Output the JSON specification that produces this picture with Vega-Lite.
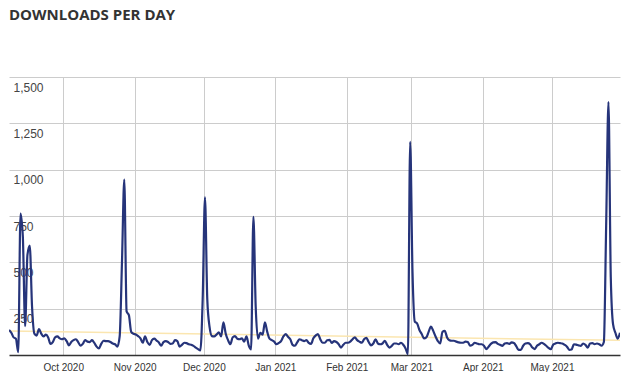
{
  "$schema": "https://vega.github.io/schema/vega-lite/v6.json",
  "width": 611,
  "height": 278,
  "padding": {"left": 9, "right": 9, "top": 8, "bottom": 0},
  "background": "white",
  "title": {"text": "DOWNLOADS PER DAY", "anchor": "start", "frame": "group", "font": "Open Sans", "fontSize": 15, "fontWeight": "bold", "color": "#333333", "baseline": "top", "offset": 54},
  "config": {"view": {"stroke": null}},
  "datasets": {
    "trend": [
      {"date": "2020-09-07T12:00", "value": 129},
      {"date": "2021-05-30T12:00", "value": 79}
    ],
    "daily": [
      {"date": "2020-09-07T12:00", "value": 135}, {"date": "2020-09-08T12:00", "value": 120}, {"date": "2020-09-09T12:00", "value": 95}, {"date": "2020-09-10T12:00", "value": 88}, {"date": "2020-09-11T12:00", "value": 15}, {"date": "2020-09-12T12:00", "value": 763}, {"date": "2020-09-13T12:00", "value": 640}, {"date": "2020-09-14T12:00", "value": 156}, {"date": "2020-09-15T12:00", "value": 540}, {"date": "2020-09-16T12:00", "value": 590}, {"date": "2020-09-17T12:00", "value": 260}, {"date": "2020-09-18T12:00", "value": 115}, {"date": "2020-09-19T12:00", "value": 105}, {"date": "2020-09-20T12:00", "value": 140}, {"date": "2020-09-21T12:00", "value": 115}, {"date": "2020-09-22T12:00", "value": 100}, {"date": "2020-09-23T12:00", "value": 110}, {"date": "2020-09-24T12:00", "value": 95}, {"date": "2020-09-25T12:00", "value": 60}, {"date": "2020-09-26T12:00", "value": 70}, {"date": "2020-09-27T12:00", "value": 95}, {"date": "2020-09-28T12:00", "value": 100}, {"date": "2020-09-29T12:00", "value": 90}, {"date": "2020-09-30T12:00", "value": 85},
      {"date": "2020-10-01T12:00", "value": 90}, {"date": "2020-10-02T12:00", "value": 75}, {"date": "2020-10-03T12:00", "value": 52}, {"date": "2020-10-04T12:00", "value": 70}, {"date": "2020-10-05T12:00", "value": 80}, {"date": "2020-10-06T12:00", "value": 85}, {"date": "2020-10-07T12:00", "value": 70}, {"date": "2020-10-08T12:00", "value": 50}, {"date": "2020-10-09T12:00", "value": 60}, {"date": "2020-10-10T12:00", "value": 80}, {"date": "2020-10-11T12:00", "value": 72}, {"date": "2020-10-12T12:00", "value": 70}, {"date": "2020-10-13T12:00", "value": 80}, {"date": "2020-10-14T12:00", "value": 65}, {"date": "2020-10-15T12:00", "value": 45}, {"date": "2020-10-16T12:00", "value": 35}, {"date": "2020-10-17T12:00", "value": 60}, {"date": "2020-10-18T12:00", "value": 77}, {"date": "2020-10-19T12:00", "value": 75}, {"date": "2020-10-20T12:00", "value": 75}, {"date": "2020-10-21T12:00", "value": 70}, {"date": "2020-10-22T12:00", "value": 62}, {"date": "2020-10-23T12:00", "value": 58}, {"date": "2020-10-24T12:00", "value": 45}, {"date": "2020-10-25T12:00", "value": 100}, {"date": "2020-10-26T12:00", "value": 500}, {"date": "2020-10-27T12:00", "value": 947}, {"date": "2020-10-28T12:00", "value": 235}, {"date": "2020-10-29T12:00", "value": 215}, {"date": "2020-10-30T12:00", "value": 125}, {"date": "2020-10-31T12:00", "value": 115},
      {"date": "2020-11-01T12:00", "value": 111}, {"date": "2020-11-02T12:00", "value": 102}, {"date": "2020-11-03T12:00", "value": 90}, {"date": "2020-11-04T12:00", "value": 66}, {"date": "2020-11-05T12:00", "value": 100}, {"date": "2020-11-06T12:00", "value": 70}, {"date": "2020-11-07T12:00", "value": 55}, {"date": "2020-11-08T12:00", "value": 80}, {"date": "2020-11-09T12:00", "value": 88}, {"date": "2020-11-10T12:00", "value": 78}, {"date": "2020-11-11T12:00", "value": 68}, {"date": "2020-11-12T12:00", "value": 50}, {"date": "2020-11-13T12:00", "value": 70}, {"date": "2020-11-14T12:00", "value": 75}, {"date": "2020-11-15T12:00", "value": 70}, {"date": "2020-11-16T12:00", "value": 60}, {"date": "2020-11-17T12:00", "value": 62}, {"date": "2020-11-18T12:00", "value": 80}, {"date": "2020-11-19T12:00", "value": 75}, {"date": "2020-11-20T12:00", "value": 45}, {"date": "2020-11-21T12:00", "value": 55}, {"date": "2020-11-22T12:00", "value": 66}, {"date": "2020-11-23T12:00", "value": 64}, {"date": "2020-11-24T12:00", "value": 58}, {"date": "2020-11-25T12:00", "value": 55}, {"date": "2020-11-26T12:00", "value": 49}, {"date": "2020-11-27T12:00", "value": 40}, {"date": "2020-11-28T12:00", "value": 32}, {"date": "2020-11-29T12:00", "value": 25}, {"date": "2020-11-30T12:00", "value": 300},
      {"date": "2020-12-01T12:00", "value": 850}, {"date": "2020-12-02T12:00", "value": 300}, {"date": "2020-12-03T12:00", "value": 150}, {"date": "2020-12-04T12:00", "value": 102}, {"date": "2020-12-05T12:00", "value": 100}, {"date": "2020-12-06T12:00", "value": 110}, {"date": "2020-12-07T12:00", "value": 122}, {"date": "2020-12-08T12:00", "value": 100}, {"date": "2020-12-09T12:00", "value": 176}, {"date": "2020-12-10T12:00", "value": 115}, {"date": "2020-12-11T12:00", "value": 80}, {"date": "2020-12-12T12:00", "value": 58}, {"date": "2020-12-13T12:00", "value": 95}, {"date": "2020-12-14T12:00", "value": 102}, {"date": "2020-12-15T12:00", "value": 88}, {"date": "2020-12-16T12:00", "value": 85}, {"date": "2020-12-17T12:00", "value": 90}, {"date": "2020-12-18T12:00", "value": 72}, {"date": "2020-12-19T12:00", "value": 100}, {"date": "2020-12-20T12:00", "value": 50}, {"date": "2020-12-21T12:00", "value": 30}, {"date": "2020-12-22T12:00", "value": 745}, {"date": "2020-12-23T12:00", "value": 260}, {"date": "2020-12-24T12:00", "value": 88}, {"date": "2020-12-25T12:00", "value": 120}, {"date": "2020-12-26T12:00", "value": 110}, {"date": "2020-12-27T12:00", "value": 176}, {"date": "2020-12-28T12:00", "value": 125}, {"date": "2020-12-29T12:00", "value": 88}, {"date": "2020-12-30T12:00", "value": 80}, {"date": "2020-12-31T12:00", "value": 72},
      {"date": "2021-01-01T12:00", "value": 58}, {"date": "2021-01-02T12:00", "value": 65}, {"date": "2021-01-03T12:00", "value": 75}, {"date": "2021-01-04T12:00", "value": 100}, {"date": "2021-01-05T12:00", "value": 113}, {"date": "2021-01-06T12:00", "value": 98}, {"date": "2021-01-07T12:00", "value": 85}, {"date": "2021-01-08T12:00", "value": 55}, {"date": "2021-01-09T12:00", "value": 50}, {"date": "2021-01-10T12:00", "value": 68}, {"date": "2021-01-11T12:00", "value": 85}, {"date": "2021-01-12T12:00", "value": 80}, {"date": "2021-01-13T12:00", "value": 75}, {"date": "2021-01-14T12:00", "value": 80}, {"date": "2021-01-15T12:00", "value": 65}, {"date": "2021-01-16T12:00", "value": 60}, {"date": "2021-01-17T12:00", "value": 90}, {"date": "2021-01-18T12:00", "value": 105}, {"date": "2021-01-19T12:00", "value": 113}, {"date": "2021-01-20T12:00", "value": 85}, {"date": "2021-01-21T12:00", "value": 66}, {"date": "2021-01-22T12:00", "value": 66}, {"date": "2021-01-23T12:00", "value": 80}, {"date": "2021-01-24T12:00", "value": 82}, {"date": "2021-01-25T12:00", "value": 65}, {"date": "2021-01-26T12:00", "value": 75}, {"date": "2021-01-27T12:00", "value": 70}, {"date": "2021-01-28T12:00", "value": 58}, {"date": "2021-01-29T12:00", "value": 40}, {"date": "2021-01-30T12:00", "value": 55}, {"date": "2021-01-31T12:00", "value": 66},
      {"date": "2021-02-01T12:00", "value": 66}, {"date": "2021-02-02T12:00", "value": 72}, {"date": "2021-02-03T12:00", "value": 85}, {"date": "2021-02-04T12:00", "value": 95}, {"date": "2021-02-05T12:00", "value": 80}, {"date": "2021-02-06T12:00", "value": 72}, {"date": "2021-02-07T12:00", "value": 66}, {"date": "2021-02-08T12:00", "value": 85}, {"date": "2021-02-09T12:00", "value": 92}, {"date": "2021-02-10T12:00", "value": 70}, {"date": "2021-02-11T12:00", "value": 52}, {"date": "2021-02-12T12:00", "value": 62}, {"date": "2021-02-13T12:00", "value": 85}, {"date": "2021-02-14T12:00", "value": 62}, {"date": "2021-02-15T12:00", "value": 58}, {"date": "2021-02-16T12:00", "value": 62}, {"date": "2021-02-17T12:00", "value": 77}, {"date": "2021-02-18T12:00", "value": 55}, {"date": "2021-02-19T12:00", "value": 40}, {"date": "2021-02-20T12:00", "value": 49}, {"date": "2021-02-21T12:00", "value": 62}, {"date": "2021-02-22T12:00", "value": 62}, {"date": "2021-02-23T12:00", "value": 58}, {"date": "2021-02-24T12:00", "value": 66}, {"date": "2021-02-25T12:00", "value": 55}, {"date": "2021-02-26T12:00", "value": 35}, {"date": "2021-02-27T12:00", "value": 5}, {"date": "2021-02-28T12:00", "value": 1150},
      {"date": "2021-03-01T12:00", "value": 450}, {"date": "2021-03-02T12:00", "value": 180}, {"date": "2021-03-03T12:00", "value": 170}, {"date": "2021-03-04T12:00", "value": 135}, {"date": "2021-03-05T12:00", "value": 113}, {"date": "2021-03-06T12:00", "value": 90}, {"date": "2021-03-07T12:00", "value": 95}, {"date": "2021-03-08T12:00", "value": 125}, {"date": "2021-03-09T12:00", "value": 153}, {"date": "2021-03-10T12:00", "value": 130}, {"date": "2021-03-11T12:00", "value": 100}, {"date": "2021-03-12T12:00", "value": 75}, {"date": "2021-03-13T12:00", "value": 62}, {"date": "2021-03-14T12:00", "value": 125}, {"date": "2021-03-15T12:00", "value": 130}, {"date": "2021-03-16T12:00", "value": 95}, {"date": "2021-03-17T12:00", "value": 80}, {"date": "2021-03-18T12:00", "value": 77}, {"date": "2021-03-19T12:00", "value": 77}, {"date": "2021-03-20T12:00", "value": 72}, {"date": "2021-03-21T12:00", "value": 68}, {"date": "2021-03-22T12:00", "value": 66}, {"date": "2021-03-23T12:00", "value": 66}, {"date": "2021-03-24T12:00", "value": 72}, {"date": "2021-03-25T12:00", "value": 70}, {"date": "2021-03-26T12:00", "value": 50}, {"date": "2021-03-27T12:00", "value": 55}, {"date": "2021-03-28T12:00", "value": 66}, {"date": "2021-03-29T12:00", "value": 62}, {"date": "2021-03-30T12:00", "value": 58}, {"date": "2021-03-31T12:00", "value": 58},
      {"date": "2021-04-01T12:00", "value": 50}, {"date": "2021-04-02T12:00", "value": 32}, {"date": "2021-04-03T12:00", "value": 45}, {"date": "2021-04-04T12:00", "value": 60}, {"date": "2021-04-05T12:00", "value": 68}, {"date": "2021-04-06T12:00", "value": 70}, {"date": "2021-04-07T12:00", "value": 60}, {"date": "2021-04-08T12:00", "value": 55}, {"date": "2021-04-09T12:00", "value": 49}, {"date": "2021-04-10T12:00", "value": 62}, {"date": "2021-04-11T12:00", "value": 64}, {"date": "2021-04-12T12:00", "value": 60}, {"date": "2021-04-13T12:00", "value": 68}, {"date": "2021-04-14T12:00", "value": 65}, {"date": "2021-04-15T12:00", "value": 48}, {"date": "2021-04-16T12:00", "value": 28}, {"date": "2021-04-17T12:00", "value": 28}, {"date": "2021-04-18T12:00", "value": 50}, {"date": "2021-04-19T12:00", "value": 62}, {"date": "2021-04-20T12:00", "value": 64}, {"date": "2021-04-21T12:00", "value": 58}, {"date": "2021-04-22T12:00", "value": 40}, {"date": "2021-04-23T12:00", "value": 32}, {"date": "2021-04-24T12:00", "value": 50}, {"date": "2021-04-25T12:00", "value": 58}, {"date": "2021-04-26T12:00", "value": 66}, {"date": "2021-04-27T12:00", "value": 60}, {"date": "2021-04-28T12:00", "value": 50}, {"date": "2021-04-29T12:00", "value": 38}, {"date": "2021-04-30T12:00", "value": 31},
      {"date": "2021-05-01T12:00", "value": 55}, {"date": "2021-05-02T12:00", "value": 62}, {"date": "2021-05-03T12:00", "value": 66}, {"date": "2021-05-04T12:00", "value": 64}, {"date": "2021-05-05T12:00", "value": 62}, {"date": "2021-05-06T12:00", "value": 55}, {"date": "2021-05-07T12:00", "value": 45}, {"date": "2021-05-08T12:00", "value": 28}, {"date": "2021-05-09T12:00", "value": 30}, {"date": "2021-05-10T12:00", "value": 58}, {"date": "2021-05-11T12:00", "value": 56}, {"date": "2021-05-12T12:00", "value": 52}, {"date": "2021-05-13T12:00", "value": 49}, {"date": "2021-05-14T12:00", "value": 62}, {"date": "2021-05-15T12:00", "value": 55}, {"date": "2021-05-16T12:00", "value": 40}, {"date": "2021-05-17T12:00", "value": 62}, {"date": "2021-05-18T12:00", "value": 64}, {"date": "2021-05-19T12:00", "value": 58}, {"date": "2021-05-20T12:00", "value": 62}, {"date": "2021-05-21T12:00", "value": 58}, {"date": "2021-05-22T12:00", "value": 50}, {"date": "2021-05-23T12:00", "value": 70}, {"date": "2021-05-24T12:00", "value": 700}, {"date": "2021-05-25T12:00", "value": 1365}, {"date": "2021-05-26T12:00", "value": 420}, {"date": "2021-05-27T12:00", "value": 165}, {"date": "2021-05-28T12:00", "value": 120}, {"date": "2021-05-29T12:00", "value": 88}, {"date": "2021-05-30T12:00", "value": 120}
    ]
  },
  "encoding": {
    "x": {
      "field": "date", "type": "temporal",
      "axis": {"title": null, "format": "%b %Y", "tickCount": "month", "grid": true, "gridColor": "#cccccc", "ticks": false, "labelPadding": 7, "labelFont": "Liberation Sans", "labelFontSize": 10, "labelColor": "#333333", "labelOverlap": false, "labelFlush": false, "domainColor": "#333333", "domainWidth": 1.5}
    },
    "y": {
      "field": "value", "type": "quantitative",
      "scale": {"domain": [0, 1500], "nice": false},
      "axis": {"title": null, "values": [250, 500, 750, 1000, 1250, 1500], "format": ",.0f", "domain": false, "ticks": false, "grid": true, "gridColor": "#cccccc", "labelAlign": "left", "labelBaseline": "top", "labelPadding": -4, "labelOffset": 5, "labelFont": "Liberation Sans", "labelFontSize": 12, "labelColor": "#444444"}
    }
  },
  "layer": [
    {"data": {"name": "trend"}, "mark": {"type": "line", "color": "#fbe6b0", "strokeWidth": 1.5, "clip": true}},
    {"data": {"name": "daily"}, "mark": {"type": "line", "color": "#26347a", "strokeWidth": 2.2, "interpolate": "monotone", "clip": true}}
  ]
}
